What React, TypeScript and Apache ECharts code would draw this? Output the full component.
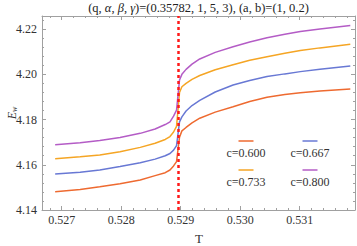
import React, { useEffect, useRef } from "react";
import * as echarts from "echarts";

// Temperature samples (shared by all curves)
const temps = [0.52689, 0.52731, 0.52764, 0.52798, 0.52832, 0.52857, 0.52874, 0.52882, 0.52888, 0.52893, 0.52898, 0.52902, 0.52909, 0.52919, 0.52932, 0.52958, 0.52988, 0.53016, 0.53045, 0.53075, 0.53101, 0.53134, 0.53185];
// E_w values per c
const c600 = [4.1481, 4.1491, 4.1503, 4.1516, 4.1533, 4.1552, 4.1565, 4.1577, 4.1595, 4.1614, 4.1722, 4.175, 4.1765, 4.1785, 4.1806, 4.1833, 4.1857, 4.188, 4.1899, 4.1911, 4.1919, 4.1926, 4.1935];
const c667 = [4.1559, 4.1567, 4.1577, 4.1592, 4.1609, 4.1625, 4.164, 4.165, 4.1665, 4.1685, 4.179, 4.1812, 4.1838, 4.1862, 4.1885, 4.1922, 4.1953, 4.1973, 4.199, 4.2002, 4.2012, 4.2022, 4.2037];
const c733 = [4.1627, 4.1635, 4.1643, 4.1658, 4.1677, 4.1695, 4.1712, 4.1725, 4.1745, 4.177, 4.192, 4.1945, 4.196, 4.1978, 4.1995, 4.202, 4.2042, 4.2062, 4.2078, 4.2093, 4.2105, 4.2117, 4.2133];
const c800 = [4.1689, 4.1697, 4.1707, 4.1721, 4.1739, 4.1758, 4.1778, 4.179, 4.1815, 4.1842, 4.1975, 4.2, 4.2022, 4.2045, 4.2068, 4.2097, 4.2122, 4.2143, 4.2162, 4.2177, 4.2189, 4.22, 4.2216];
const seriesNames = ["c=0.600", "c=0.667", "c=0.733", "c=0.800"];
const seriesValues = [c600, c667, c733, c800];
const colors = ["#EE6A30", "#6878D4", "#F5A524", "#B45CC6"];
const criticalT = 0.52896;
const xTicks = [0.527, 0.528, 0.529, 0.53, 0.531];
const yTicks = [4.14, 4.16, 4.18, 4.2, 4.22];
const xRange = [0.526669, 0.531929];
const yRange = [4.14, 4.2258];

const SERIF = '"Liberation Serif", "DejaVu Serif", serif';
const FRAME = "#a0a0a0";

function minorList(lo: number, hi: number, step: number) {
  const out: number[] = [];
  const start = Math.ceil(lo / step - 1e-9);
  for (let k = start; k * step <= hi + 1e-12; k++) out.push(+(k * step).toFixed(6));
  return out;
}

export default function App() {
  const ref = useRef<HTMLDivElement>(null);
  useEffect(() => {
    if (!ref.current) return;
    const chart = echarts.init(ref.current, undefined, { renderer: "svg" });
    const xMinor = minorList(xRange[0], xRange[1], 0.0002);
    const yMinor = minorList(yRange[0], yRange[1], 0.004);
    const gridRect = { left: 42, right: 2, top: 16, bottom: 36 };
    const baseAxis = (kind: "x" | "y", gridIndex: number, position: string, ticks: number[], len: number, labels: boolean, line: boolean) => ({
      type: "value",
      gridIndex,
      position,
      min: kind === "x" ? xRange[0] : yRange[0],
      max: kind === "x" ? xRange[1] : yRange[1],
      axisLine: { show: line, lineStyle: { color: FRAME, width: 1 } },
      axisTick: { show: true, inside: true, length: len, customValues: ticks, lineStyle: { color: FRAME, width: 1 } },
      axisLabel: labels
        ? {
            show: true,
            customValues: ticks,
            color: "#333",
            fontFamily: SERIF,
            fontSize: 12,
            margin: kind === "x" ? 4 : 5,
            formatter: (v: number) => (kind === "x" ? v.toFixed(3) : v.toFixed(2)),
          }
        : { show: false },
      splitLine: { show: false },
    });

    const series: any[] = seriesValues.map((vals, i) => ({
      name: seriesNames[i],
      type: "line",
      xAxisIndex: 0,
      yAxisIndex: 0,
      data: temps.map((t, j) => [t, vals[j]]),
      showSymbol: false,
      smooth: false,
      lineStyle: { color: colors[i], width: 1.5 },
      itemStyle: { color: colors[i] },
      z: 3,
    }));
    series[0].markLine = {
      silent: true,
      symbol: "none",
      precision: 6,
      label: { show: false },
      lineStyle: { color: "#ff1a1a", width: 2.5, type: [3, 3] },
      data: [{ xAxis: criticalT }],
      z: 5,
    };

    const legendCols = [246, 310];
    const legendLineY = [141, 170];
    const legendTextY = [153, 182];
    const legendGraphics: any[] = [];
    seriesNames.forEach((name, i) => {
      const col = i % 2;
      const row = Math.floor(i / 2);
      const cx = legendCols[col];
      legendGraphics.push({
        type: "line",
        shape: { x1: cx - 7.5, y1: legendLineY[row], x2: cx + 7.5, y2: legendLineY[row] },
        style: { stroke: colors[i], lineWidth: 1.5 },
        silent: true,
      });
      legendGraphics.push({
        type: "text",
        x: cx,
        y: legendTextY[row],
        style: { text: name, fill: "#333", fontFamily: SERIF, fontSize: 12, align: "center", verticalAlign: "middle" },
        silent: true,
      });
    });

    chart.setOption({
      animation: false,
      backgroundColor: "#fff",
      grid: [
        { ...gridRect, containLabel: false },
        { ...gridRect, containLabel: false },
      ],
      xAxis: [
        baseAxis("x", 0, "bottom", xTicks, 4, true, true),
        baseAxis("x", 0, "top", xTicks, 4, false, true),
        baseAxis("x", 1, "bottom", xMinor, 2, false, false),
        baseAxis("x", 1, "top", xMinor, 2, false, false),
      ],
      yAxis: [
        baseAxis("y", 0, "left", yTicks, 4, true, true),
        baseAxis("y", 0, "right", yTicks, 4, false, true),
        baseAxis("y", 1, "left", yMinor, 2, false, false),
        baseAxis("y", 1, "right", yMinor, 2, false, false),
      ],
      series,
      graphic: [
        {
          type: "text",
          x: 198.5,
          y: 8,
          style: {
            text: "(q, {i|α}, {i|β}, {i|γ})=(0.35782, 1, 5, 3), (a, b)=(1, 0.2)",
            fill: "#222",
            fontFamily: SERIF,
            fontSize: 12.5,
            align: "center",
            verticalAlign: "middle",
            rich: { i: { fontStyle: "italic", fontFamily: SERIF, fontSize: 12.5, fill: "#222" } },
          },
          silent: true,
        },
        {
          type: "text",
          x: 11,
          y: 113,
          rotation: Math.PI / 2,
          style: {
            text: "{e|E}{w|w}",
            fill: "#333",
            align: "center",
            verticalAlign: "middle",
            rich: {
              e: { fontStyle: "italic", fontFamily: SERIF, fontSize: 12, fill: "#333", lineHeight: 14, verticalAlign: "bottom" },
              w: { fontStyle: "italic", fontFamily: SERIF, fontSize: 8, fill: "#333", lineHeight: 14, verticalAlign: "bottom", padding: [5, 0, 0, 0] },
            },
          },
          silent: true,
        },
        {
          type: "text",
          x: 199,
          y: 238,
          style: { text: "T", fill: "#333", fontFamily: SERIF, fontSize: 13, align: "center", verticalAlign: "middle" },
          silent: true,
        },
        ...legendGraphics,
      ],
    });
    return () => chart.dispose();
  }, []);
  return <div ref={ref} style={{ position: "absolute", left: 0, top: 0, width: 357, height: 246 }} />;
}
